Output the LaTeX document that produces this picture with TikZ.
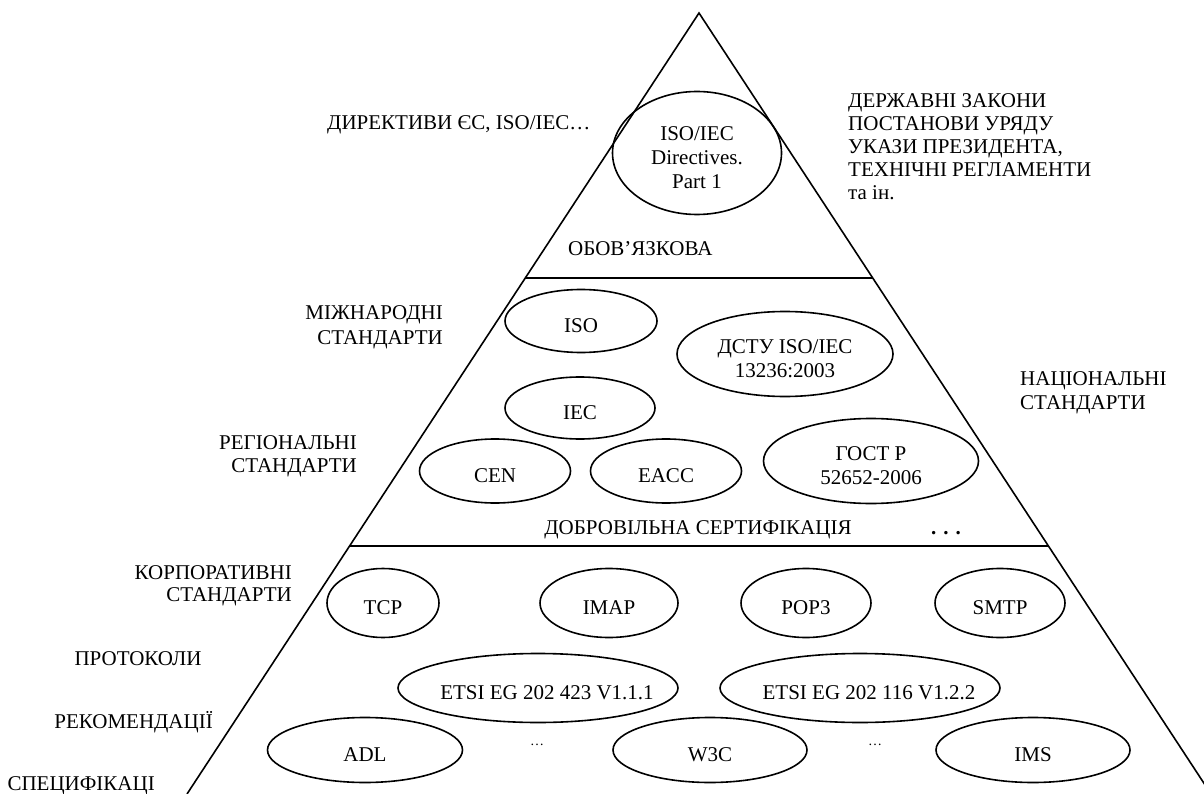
\documentclass[tikz,border=0pt]{standalone}
\usepackage{fontspec}
\setmainfont{Liberation Serif}
\usetikzlibrary{shapes.geometric,calc}
\newcommand{\ellnode}[7]{%
  \node[ell, minimum width=#4, minimum height=#5] (#1) at (#2,#3) {};
  \node[etext] (#1-t) at ($(#1.center)+(#7,5)$) {#6};}
\begin{document}
\begin{tikzpicture}[x=1pt,y=-1pt,
  lbl/.style={font=\fontsize{21}{24}\selectfont, inner sep=0pt},
  ell/.style={draw, ellipse, line width=1.6pt, inner sep=0pt},
  etext/.style={inner sep=0pt, align=center, font=\fontsize{21}{24}\selectfont},
  edge/.style={line width=1.6pt},
  smalldots/.style={font=\fontsize{14}{16}\selectfont, inner sep=0pt}]
\useasboundingbox (0,0) rectangle (1204,794);
\clip (0,0) rectangle (1204,794);
% pyramid
\coordinate (A) at (699,13);
\coordinate (BL) at (187,794);
\coordinate (BR) at (1211,794);
\draw[edge] (BL) -- (A) -- (BR);
\coordinate (L1l) at ($(A)!0.3393!(BL)$);
\coordinate (L1r) at ($(A)!0.3393!(BR)$);
\coordinate (L2l) at ($(A)!0.6825!(BL)$);
\coordinate (L2r) at ($(A)!0.6825!(BR)$);
\draw[edge] (L1l) -- (L1r);
\draw[edge] (L2l) -- (L2r);

% top level
\node[lbl, anchor=base west] (dir) at (327,130) {ДИРЕКТИВИ ЄС, ISO/IEC…};
\ellnode{isoiec}{697}{153}{169}{123}{ISO/IEC\\Directives.\\Part 1}{0}
\node[lbl, anchor=base west] (law1) at (848,108) {ДЕРЖАВНІ ЗАКОНИ};
\node[lbl, anchor=base west] (law2) at (848,131) {ПОСТАНОВИ УРЯДУ};
\node[lbl, anchor=base west] (law3) at (848,154) {УКАЗИ ПРЕЗИДЕНТА,};
\node[lbl, anchor=base west] (law4) at (848,177) {ТЕХНІЧНІ РЕГЛАМЕНТИ};
\node[lbl, anchor=base west] (law5) at (848,200) {та ін.};
\node[lbl, anchor=base west] (oblig) at (568,255) {ОБОВ’ЯЗКОВА};

% middle level
\node[lbl, anchor=base east] (int1) at (443,319) {МІЖНАРОДНІ};
\node[lbl, anchor=base east] (int2) at (443,344) {СТАНДАРТИ};
\node[lbl, anchor=base east] (reg1) at (357,449) {РЕГІОНАЛЬНІ};
\node[lbl, anchor=base east] (reg2) at (357,472) {СТАНДАРТИ};
\node[lbl, anchor=base west] (nat1) at (1020,385) {НАЦІОНАЛЬНІ};
\node[lbl, anchor=base west] (nat2) at (1020,409) {СТАНДАРТИ};
\ellnode{iso}{581}{321}{152}{63}{ISO}{0}
\ellnode{iec}{580}{408}{150}{62}{IEC}{0}
\ellnode{dstu}{785}{354}{216}{85}{ДСТУ ISO/IEC\\13236:2003}{0}
\ellnode{cen}{495}{471}{151}{64}{CEN}{0}
\ellnode{eacc}{666}{471}{151}{64}{EACC}{0}
\ellnode{gost}{871}{461}{215}{85}{ГОСТ Р\\52652-2006}{0}
\node[lbl, anchor=base] (vol) at (698,534) {ДОБРОВІЛЬНА СЕРТИФІКАЦІЯ};
\node[lbl, anchor=base] (voldots) at (946,534) {\bfseries .\,\,.\,\,.};

% bottom level
\node[lbl, anchor=base east] (corp1) at (292,579) {КОРПОРАТИВНІ};
\node[lbl, anchor=base east] (corp2) at (292,601) {СТАНДАРТИ};
\node[lbl, anchor=base] (prot) at (138,665) {ПРОТОКОЛИ};
\node[lbl, anchor=base east] (rec) at (213,728) {РЕКОМЕНДАЦІЇ};
\node[lbl, anchor=base east] (spec) at (155,790) {СПЕЦИФІКАЦІ};
\ellnode{tcp}{383}{603}{112}{69}{TCP}{0}
\ellnode{imap}{609}{603}{138}{69}{IMAP}{0}
\ellnode{pop}{806}{603}{130}{69}{POP3}{0}
\ellnode{smtp}{1000}{603}{130}{69}{SMTP}{0}
\ellnode{etsia}{538}{688}{280}{69}{ETSI EG 202 423 V1.1.1}{9}
\ellnode{etsib}{860}{688}{280}{69}{ETSI EG 202 116 V1.2.2}{9}
\ellnode{adl}{365}{750}{195}{65}{ADL}{0}
\ellnode{w3c}{710}{750}{194}{65}{W3C}{0}
\ellnode{ims}{1033}{750}{194}{65}{IMS}{0}
\node[smalldots] (d1) at (537,745) {…};
\node[smalldots] (d2) at (875,745) {…};
\end{tikzpicture}
\end{document}
